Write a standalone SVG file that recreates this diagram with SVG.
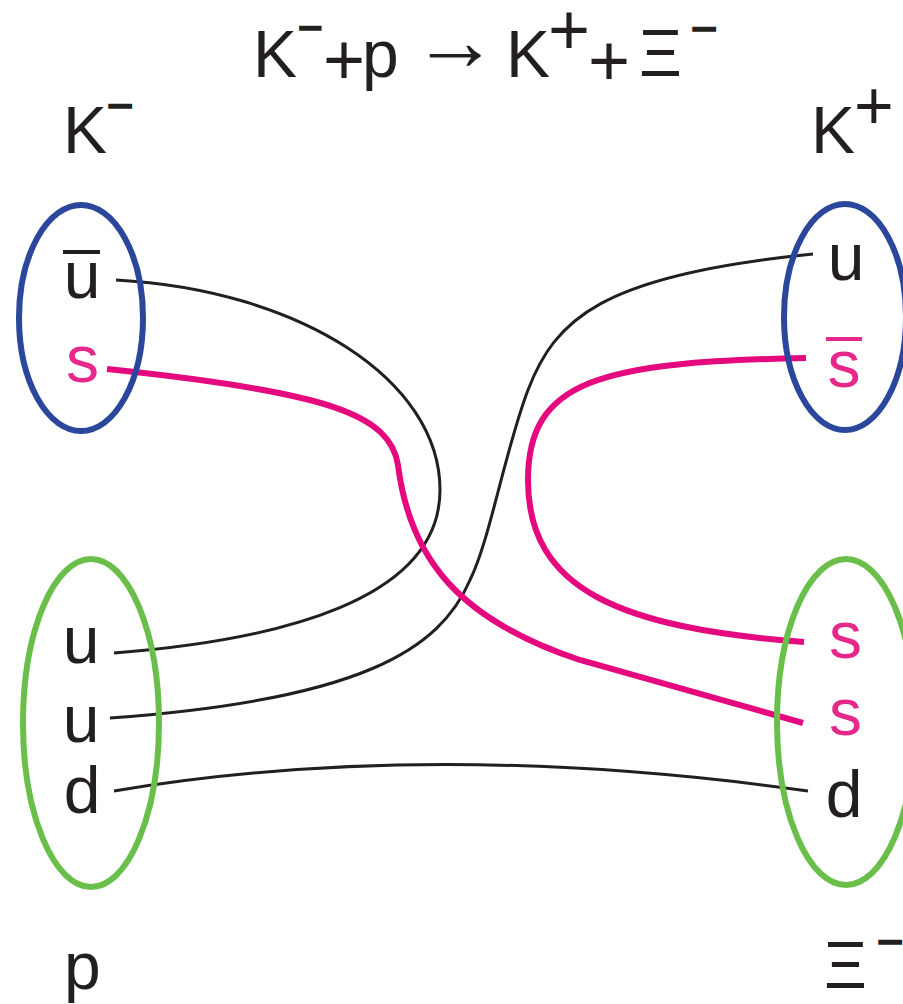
<svg xmlns="http://www.w3.org/2000/svg" width="903" height="1004" viewBox="0 0 903 1004">
<style>
text{font-family:"Liberation Sans",Arial,sans-serif;fill:#231f20}
.q{font-size:66px;text-anchor:middle}
.pk{fill:#e6288a}
.bar{stroke:#231f20;stroke-width:2}
.ob{stroke-width:4;stroke-linecap:butt}
.blue{fill:none;stroke:#2b479b;stroke-width:6}
.green{fill:none;stroke:#6abf4b;stroke-width:6}
.bk{fill:none;stroke:#231f20;stroke-width:3}
.pl{fill:none;stroke:#e5097f;stroke-width:6}
</style>
<rect width="903" height="1004" fill="#fff"/>
<g id="title">
<text font-size="66"><tspan x="253" y="77">K</tspan><tspan x="298" y="42" font-size="42" class="bar">−</tspan><tspan x="323" y="84" font-size="72">+</tspan><tspan x="362" y="77">p</tspan><tspan x="412" y="70" font-size="86">→</tspan><tspan x="506" y="77">K</tspan><tspan x="548" y="54" font-size="72">+</tspan><tspan x="588" y="85" font-size="72">+</tspan><tspan x="639" y="76">Ξ</tspan><tspan x="691" y="44" font-size="45" class="bar">−</tspan></text>
</g>
<g id="connectors">
<path class="bk" d="M116,280 C300,290 440,380 440,490 C440,600 280,640 114,653"/>
<path class="bk" d="M813,254 C600,275 555,320 528,390 C505,450 490,540 470,580 C440,650 360,700 110,718"/>
<path class="bk" d="M114,791 Q430,738 808,791"/>
<path class="pl" d="M107,369 C330,392 390,415 398,465 C410,560 460,620 580,660 L803,723"/>
<path class="pl" d="M806,358 C600,362 528,380 528,480 C528,590 620,628 804,642"/>
</g>
<g id="kminus">
<ellipse class="blue" cx="81" cy="318" rx="62" ry="113"/>
<text x="63" y="153" font-size="66">K</text>
<text x="107" y="121" font-size="45" class="bar">−</text>
<line class="ob" x1="63" y1="252" x2="100" y2="252" stroke="#231f20"/>
<text class="q" x="82" y="298">u</text>
<text class="q pk" x="82.5" y="382">s</text>
</g>
<g id="kplus">
<ellipse class="blue" cx="845" cy="317" rx="61" ry="113"/>
<text x="811" y="153" font-size="66">K</text>
<text x="854" y="129" font-size="68">+</text>
<text class="q" x="846" y="280">u</text>
<line class="ob" x1="826" y1="339" x2="862" y2="339" stroke="#e6288a"/>
<text class="q pk" x="844" y="387">s</text>
</g>
<g id="proton">
<ellipse class="green" cx="91" cy="723" rx="68" ry="164"/>
<text class="q" x="81" y="663">u</text>
<text class="q" x="81" y="742">u</text>
<text class="q" x="82" y="813">d</text>
<text x="64" y="989" font-size="66">p</text>
</g>
<g id="xi">
<ellipse class="green" cx="846" cy="722" rx="69" ry="163"/>
<text class="q pk" x="845.5" y="658">s</text>
<text class="q pk" x="845.5" y="735">s</text>
<text class="q" x="844" y="817">d</text>
<text x="824" y="988" font-size="66">Ξ</text>
<text x="877" y="957" font-size="45" class="bar">−</text>
</g>
</svg>
